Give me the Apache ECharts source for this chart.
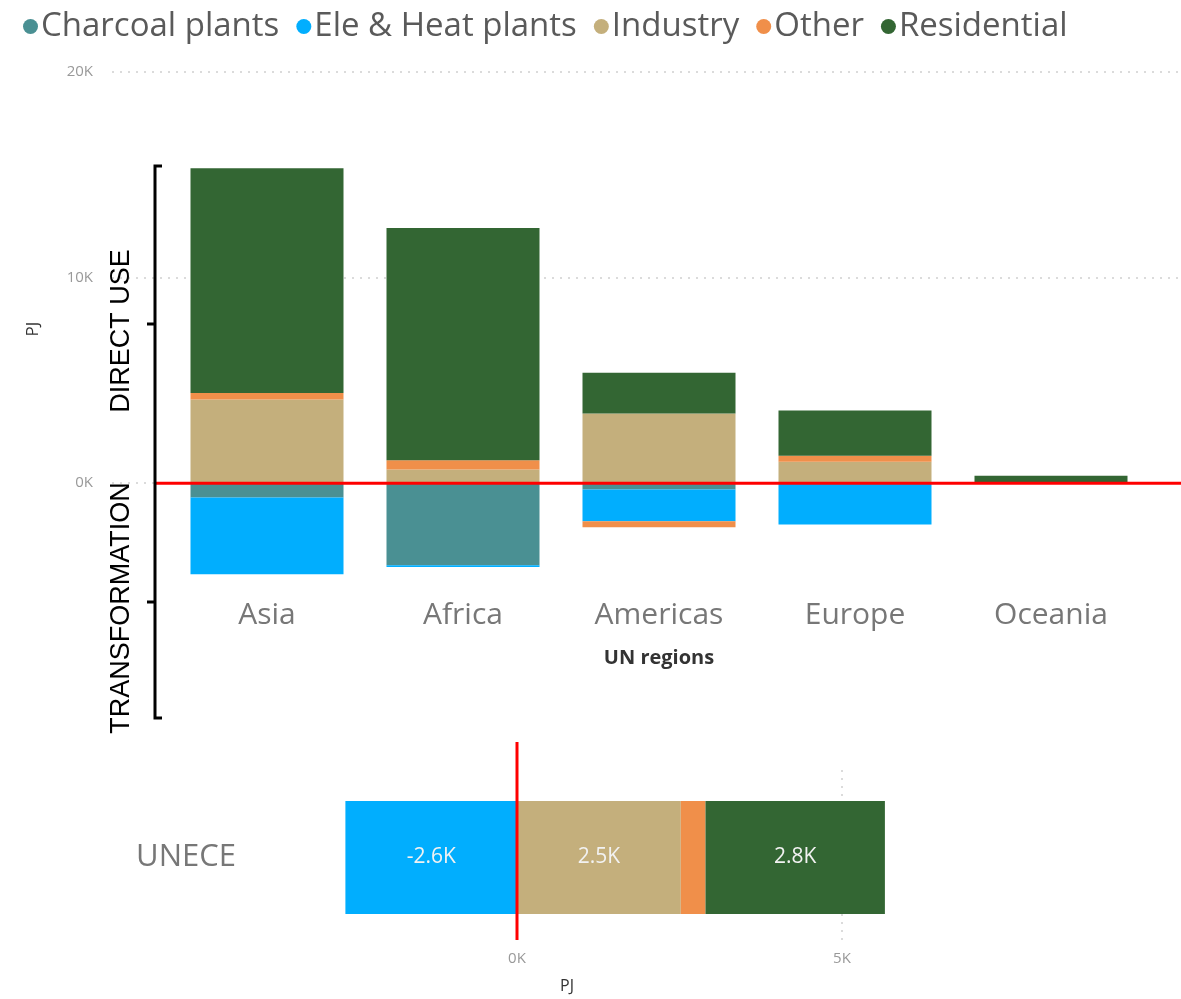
<!DOCTYPE html>
<html>
<head>
<meta charset="utf-8">
<script src="https://cdn.jsdelivr.net/npm/echarts@6/dist/echarts.min.js"></script>
<style>
  html, body { margin: 0; padding: 0; background: #fff; }
  #chart { width: 1181px; height: 999px; }
</style>
</head>
<body>
<div id="chart"></div>
<script>
  // data (PJ)
  var seriesNames = ['Charcoal plants', 'Ele & Heat plants', 'Industry', 'Other', 'Residential'];
  var colors = ['#4A9093', '#01AEFE', '#C4AF7C', '#F08F4A', '#336633'];

  var regions = ['Asia', 'Africa', 'Americas', 'Europe', 'Oceania'];
  var charcoal = [-700, -3990, -310, 0, 0];
  var eleHeat = [-3730, -80, -1540, -2010, 0];
  var industry = [4070, 670, 3390, 1040, 20];
  var other = [320, 450, -290, 290, 0];
  var residential = [10930, 11290, 1980, 2210, 340];

  var unece = ['UNECE'];
  var uneceCharcoal = [0];
  var uneceEleHeat = [-2640];
  var uneceIndustry = [2520];
  var uneceOther = [380];
  var uneceResidential = [2760];

  var topData = [charcoal, eleHeat, industry, other, residential];
  var bottomData = [uneceCharcoal, uneceEleHeat, uneceIndustry, uneceOther, uneceResidential];

  var kFmt = function (v) { return (v / 1000) + 'K'; };
  var dotted = { color: '#cfcfcf', width: 1.5, type: [2, 6] };
  var font = '"Open Sans", "Noto Sans", sans-serif';

  var chart = echarts.init(document.getElementById('chart'));

  var series = [];
  seriesNames.forEach(function (name, i) {
    series.push({
      name: name, type: 'bar', stack: 'regions',
      xAxisIndex: 1, yAxisIndex: 1,
      barWidth: 153,
      itemStyle: { color: colors[i] },
      data: topData[i]
    });
  });
  seriesNames.forEach(function (name, i) {
    series.push({
      name: name, type: 'bar', stack: 'unece',
      xAxisIndex: 2, yAxisIndex: 2,
      barWidth: 113,
      itemStyle: { color: colors[i] },
      label: {
        show: true, position: 'inside', color: '#f2f2f2', fontSize: 21, fontFamily: font,
        formatter: function (p) {
          return Math.abs(p.value) >= 1000 ? (p.value / 1000).toFixed(1) + 'K' : '';
        }
      },
      data: bottomData[i]
    });
  });

  chart.setOption({
    animation: false,
    textStyle: { fontFamily: font },
    legend: {
      data: seriesNames,
      left: 18, top: 5,
      icon: 'circle', itemWidth: 15, itemHeight: 15, itemGap: 17,
      textStyle: { fontSize: 33, color: '#5a5a5a', fontFamily: font, padding: [0, 0, 0, -2] }
    },
    grid: [
      { left: 112, right: 0, top: 72, height: 411, outerBoundsMode: 'none' },
      { left: 169, right: 32, top: 72, height: 514, outerBoundsMode: 'none' },
      { left: 192, right: 14, top: 770, height: 175, outerBoundsMode: 'none' }
    ],
    xAxis: [
      { gridIndex: 0, type: 'value', min: 0, max: 1, show: false },
      {
        gridIndex: 1, type: 'category', data: regions,
        axisLine: { show: false }, axisTick: { show: false },
        axisLabel: { fontSize: 30, color: '#777', margin: 14 },
        name: 'UN regions', nameLocation: 'middle', nameGap: 62,
        nameTextStyle: { fontSize: 20, fontWeight: 'bold', color: '#333' }
      },
      {
        gridIndex: 2, type: 'value', min: -5000, max: 10000, interval: 5000,
        axisLine: { show: false }, axisTick: { show: false },
        axisLabel: { fontSize: 15, color: '#999', margin: 6, formatter: kFmt, showMinLabel: false, showMaxLabel: false },
        splitLine: { show: true, lineStyle: dotted, showMinLine: false, showMaxLine: false },
        name: 'PJ', nameLocation: 'middle', nameGap: 33,
        nameTextStyle: { fontSize: 16, color: '#333', padding: [0, 225, 0, 0] }
      }
    ],
    yAxis: [
      {
        gridIndex: 0, type: 'value', min: 0, max: 20000, interval: 10000,
        axisLine: { show: false }, axisTick: { show: false },
        axisLabel: { fontSize: 15, color: '#999', margin: 19, formatter: kFmt },
        splitLine: { show: true, lineStyle: dotted }
      },
      {
        gridIndex: 1, type: 'value', min: -5000, max: 20000, interval: 5000,
        axisLine: { show: false }, axisTick: { show: false },
        axisLabel: { show: false }, splitLine: { show: false },
        name: 'PJ', nameLocation: 'middle', nameGap: 127,
        nameTextStyle: { fontSize: 17, color: '#333' }
      },
      {
        gridIndex: 2, type: 'category', data: unece,
        axisLine: { show: false }, axisTick: { show: false },
        axisLabel: { fontSize: 31, color: '#777', margin: -44 }
      }
    ],
    series: series
  });

  // annotations: zero lines and the bracket with its labels
  var zeroY = chart.convertToPixel({ yAxisIndex: 1 }, 0);
  var zeroX = chart.convertToPixel({ xAxisIndex: 2 }, 0);
  var textFont = '27px "Liberation Sans", Arial, sans-serif';

  chart.setOption({
    graphic: [
      { type: 'line', z: 100, shape: { x1: 155, y1: zeroY, x2: 1181, y2: zeroY }, style: { stroke: '#ff0000', lineWidth: 3 } },
      { type: 'line', z: 100, shape: { x1: zeroX, y1: 742, x2: zeroX, y2: 940 }, style: { stroke: '#ff0000', lineWidth: 3 } },
      {
        type: 'polyline', z: 100,
        shape: { points: [[162, 166], [155, 166], [155, 718], [162, 718]] },
        style: { stroke: '#000', lineWidth: 3, fill: null }
      },
      { type: 'line', z: 100, shape: { x1: 147, y1: 324, x2: 155, y2: 324 }, style: { stroke: '#000', lineWidth: 3 } },
      { type: 'line', z: 100, shape: { x1: 147, y1: 602, x2: 155, y2: 602 }, style: { stroke: '#000', lineWidth: 3 } },
      {
        type: 'text', z: 100, x: 122, y: 331, rotation: Math.PI / 2,
        style: { text: 'DIRECT USE', font: textFont, fill: '#000', align: 'center', verticalAlign: 'middle' }
      },
      {
        type: 'text', z: 100, x: 122, y: 608, rotation: Math.PI / 2,
        style: { text: 'TRANSFORMATION', font: textFont, fill: '#000', align: 'center', verticalAlign: 'middle' }
      }
    ]
  });
</script>
</body>
</html>
